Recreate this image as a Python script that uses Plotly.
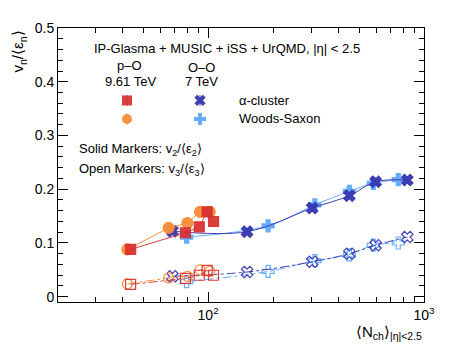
import plotly.graph_objects as go

# p-O 9.61 TeV
po_alpha_n = [43.8, 78.5, 91.0, 99.0, 106.0]
po_alpha_v2 = [0.088, 0.119, 0.130, 0.158, 0.140]
po_alpha_v3 = [0.023, 0.034, 0.040, 0.049, 0.040]

po_ws_n = [42.3, 65.7, 80.2, 91.8, 101.8]
po_ws_v2 = [0.088, 0.128, 0.137, 0.158, 0.158]
po_ws_v3 = [0.024, 0.035, 0.038, 0.050, 0.047]

# O-O 7 TeV
oo_alpha_n = [68.4, 151.6, 303.6, 451.0, 597.0, 837.0]
oo_alpha_v2 = [0.122, 0.121, 0.165, 0.188, 0.214, 0.217]
oo_alpha_v3 = [0.038, 0.046, 0.065, 0.080, 0.096, 0.111]

oo_ws_n = [79.6, 189.7, 312.4, 451.0, 582.0, 760.0]
oo_ws_v2 = [0.111, 0.132, 0.171, 0.196, 0.211, 0.218]
oo_ws_v3 = [0.028, 0.047, 0.067, 0.078, 0.096, 0.100]

RED = "rgba(214,45,45,0.9)"
ORANGE = "rgba(250,140,55,0.95)"
DBLUE = "rgba(55,55,175,0.95)"
LBLUE = "rgba(95,170,250,0.95)"

FONT = "Liberation Sans, Arial, sans-serif"

fig = go.Figure()


def add_series(x, y, color, symbol, shape, dash, size=10):
    fig.add_trace(go.Scatter(
        x=x, y=y, mode="lines+markers",
        line=dict(color=color, width=1, shape=shape, dash=dash),
        marker=dict(color=color, symbol=symbol, size=size,
                    line=dict(color=color, width=1.2)),
        showlegend=False,
    ))


# open markers (v3)
add_series(oo_ws_n, oo_ws_v3, LBLUE, "cross-open", "spline", "dashdot")
add_series(oo_alpha_n, oo_alpha_v3, DBLUE, "x-open", "spline", "dashdot")
add_series(po_ws_n, po_ws_v3, ORANGE, "circle-open", "linear", "dashdot")
add_series(po_alpha_n, po_alpha_v3, RED, "square-open", "linear", "dashdot")

# solid markers (v2)
add_series(oo_ws_n, oo_ws_v2, LBLUE, "cross", "spline", "solid")
add_series(oo_alpha_n, oo_alpha_v2, DBLUE, "x", "spline", "solid")
add_series(po_ws_n, po_ws_v2, ORANGE, "circle", "linear", "solid", 11)
add_series(po_alpha_n, po_alpha_v2, RED, "square", "linear", "solid")

# legend glyphs on an overlay axis in [0,1]
leg_x = [0.1885, 0.388, 0.1885, 0.388]
leg_y = [0.7356, 0.7356, 0.668, 0.668]
leg_sym = ["square", "x", "circle", "cross"]
leg_col = [RED, DBLUE, ORANGE, LBLUE]
for lx, ly, s, c in zip(leg_x, leg_y, leg_sym, leg_col):
    fig.add_trace(go.Scatter(
        x=[lx], y=[ly], xaxis="x2", yaxis="y2", mode="markers",
        marker=dict(color=c, symbol=s, size=10),
        error_y=dict(type="constant", value=0.02, color=c, thickness=1, width=0),
        showlegend=False, hoverinfo="skip",
    ))

minor_vals = [30, 40, 50, 60, 70, 80, 90, 200, 300, 400, 500, 600, 700, 800, 900]

# the page body keeps an 8px margin, so the figure is 8px smaller on the top/left
fig.update_layout(
    width=443, height=339,
    margin=dict(l=50, r=27, t=13, b=45),
    paper_bgcolor="white", plot_bgcolor="white",
    font=dict(family=FONT, size=14, color="black"),
    xaxis=dict(
        type="log", range=[1.305, 3.0],
        tickvals=[100, 1000], ticktext=["10<sup>2</sup>", "10<sup>3</sup>"],
        ticks="inside", ticklen=10, tickcolor="black",
        minor=dict(tickvals=minor_vals, ticks="inside", ticklen=5, tickcolor="black"),
        showgrid=False, zeroline=False,
        showline=True, linecolor="black", linewidth=1, mirror="ticks",
        tickfont=dict(size=14),
    ),
    yaxis=dict(
        range=[-0.0098, 0.5], tickvals=[0, 0.1, 0.2, 0.3, 0.4, 0.5],
        ticktext=["0", "0.1", "0.2", "0.3", "0.4", "0.5"],
        ticks="inside", ticklen=10, tickcolor="black",
        minor=dict(dtick=0.02, tick0=0, ticks="inside", ticklen=5, tickcolor="black"),
        showgrid=False, zeroline=False,
        showline=True, linecolor="black", linewidth=1, mirror="ticks",
        tickfont=dict(size=14),
    ),
    xaxis2=dict(range=[0, 1], overlaying="x", visible=False),
    yaxis2=dict(range=[0, 1], overlaying="y", visible=False),
)

ann = [
    dict(text="IP-Glasma + MUSIC + iSS + UrQMD, |η| < 2.5", x=0.462, y=0.924, xanchor="center"),
    dict(text="p–O", x=0.194, y=0.864, xanchor="center"),
    dict(text="9.61 TeV", x=0.197, y=0.803, xanchor="center"),
    dict(text="O–O", x=0.393, y=0.856, xanchor="center"),
    dict(text="7 TeV", x=0.393, y=0.803, xanchor="center"),
    dict(text="α-cluster", x=0.489, y=0.7356, xanchor="left"),
    dict(text="Woods-Saxon", x=0.489, y=0.668, xanchor="left"),
    dict(text="Solid Markers: v<sub>2</sub>/⟨ε<sub>2</sub>⟩", x=0.052, y=0.558, xanchor="left"),
    dict(text="Open Markers: v<sub>3</sub>/⟨ε<sub>3</sub>⟩", x=0.052, y=0.483, xanchor="left"),
]
for a in ann:
    fig.add_annotation(xref="paper", yref="paper", showarrow=False, yanchor="middle",
                       font=dict(size=13), **a)

fig.add_annotation(text="v<sub>n</sub>/⟨ε<sub>n</sub>⟩", xref="paper", yref="paper",
                   x=-0.108, y=1.0, xanchor="center", yanchor="top", textangle=-90,
                   showarrow=False, font=dict(size=15))
fig.add_annotation(text="⟨N<sub>ch</sub>⟩<sub>|η|<2.5</sub>", xref="paper", yref="paper",
                   x=1.0, y=-0.111, xanchor="right", yanchor="middle",
                   showarrow=False, font=dict(size=15))

fig.write_html("out.html")
